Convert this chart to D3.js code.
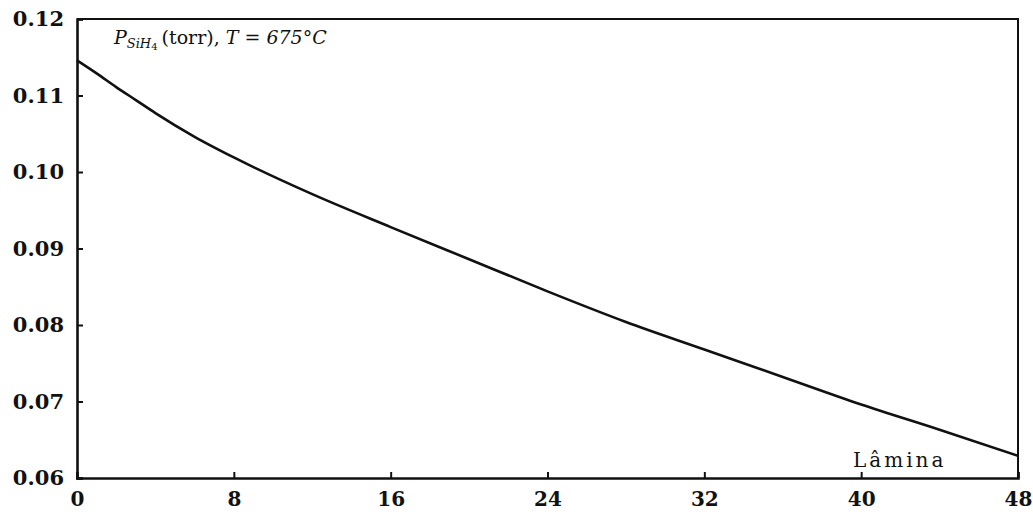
<!DOCTYPE html>
<html>
<head>
<meta charset="utf-8">
<script src="https://cdn.jsdelivr.net/npm/d3@7/dist/d3.min.js"></script>
<style>
  html, body { margin: 0; padding: 0; background: #fff; }
  svg { display: block; }
  text { fill: #111; }
</style>
</head>
<body>
<svg id="chart" width="1033" height="518"></svg>
<script>
// Silane partial pressure along the wafer load
const lamina = [0, 1, 2, 3, 4, 6, 8, 12, 16, 20, 24, 28, 32, 36, 40, 44, 48];
const pressure = [0.1146, 0.1129, 0.1111, 0.1094, 0.1077, 0.1046, 0.1019, 0.0971,
                  0.0928, 0.0886, 0.0844, 0.0804, 0.0768, 0.0732, 0.0696, 0.0663, 0.0629];
const xTicks = [0, 8, 16, 24, 32, 40, 48];
const yTicks = [0.06, 0.07, 0.08, 0.09, 0.10, 0.11, 0.12];

const svg = d3.select("#chart");
const margin = { left: 77, right: 15, top: 19, bottom: 40 };
const W = 1033, H = 518;
const x = d3.scaleLinear().domain([0, 48]).range([margin.left, W - margin.right]);
const y = d3.scaleLinear().domain([0.06, 0.12]).range([H - margin.bottom, margin.top]);

const font = "'DejaVu Serif', 'Liberation Serif', serif";

// frame (top and right)
svg.append("path")
  .attr("d", `M${x(0)},${y(0.12)}H${x(48)}V${y(0.06)}`)
  .attr("fill", "none").attr("stroke", "#111").attr("stroke-width", 2);

// y axis with inward ticks
const yAxis = d3.axisLeft(y).tickValues(yTicks).tickSize(-6).tickPadding(13)
  .tickFormat(d3.format(".2f"));
const gy = svg.append("g").attr("transform", `translate(${x(0)},0)`).call(yAxis);
gy.select(".domain").attr("stroke", "#111").attr("stroke-width", 2.6);
gy.selectAll(".tick line").attr("stroke", "#111").attr("stroke-width", 2);
gy.selectAll(".tick text").attr("font-family", font).attr("font-weight", "bold")
  .attr("font-size", 21).attr("fill", "#111");

// x axis with inward ticks
const xAxis = d3.axisBottom(x).tickValues(xTicks).tickSize(-6).tickPadding(14)
  .tickFormat(d3.format("d"));
const gx = svg.append("g").attr("transform", `translate(0,${y(0.06)})`).call(xAxis);
gx.select(".domain").attr("stroke", "#111").attr("stroke-width", 2.6);
gx.selectAll(".tick line").attr("stroke", "#111").attr("stroke-width", 2);
gx.selectAll(".tick text").attr("font-family", font).attr("font-weight", "bold")
  .attr("font-size", 20).attr("fill", "#111");

// curve
const line = d3.line().x((d, i) => x(lamina[i])).y(d => y(d)).curve(d3.curveMonotoneX);
svg.append("path")
  .datum(pressure)
  .attr("d", line)
  .attr("fill", "none").attr("stroke", "#111").attr("stroke-width", 2.6)
  .attr("stroke-linejoin", "round");

// title inside the frame
const title = svg.append("text")
  .attr("x", 114).attr("y", 44)
  .attr("font-family", font).attr("font-size", 19);
title.append("tspan").attr("font-style", "italic").text("P");
title.append("tspan").attr("font-style", "italic").attr("font-size", 13).attr("dy", 4).text("SiH");
title.append("tspan").attr("font-size", 10).attr("dy", 2).text("4");
title.append("tspan").attr("dy", -6).attr("dx", 4).text("(torr), ");
title.append("tspan").attr("font-style", "italic").text("T");
title.append("tspan").text(" = ");
title.append("tspan").attr("font-style", "italic").text("675°C");

// x axis caption
svg.append("text")
  .attr("x", 853).attr("y", 467)
  .attr("font-family", font).attr("font-size", 20).attr("letter-spacing", 3)
  .text("Lâmina");
</script>
</body>
</html>
